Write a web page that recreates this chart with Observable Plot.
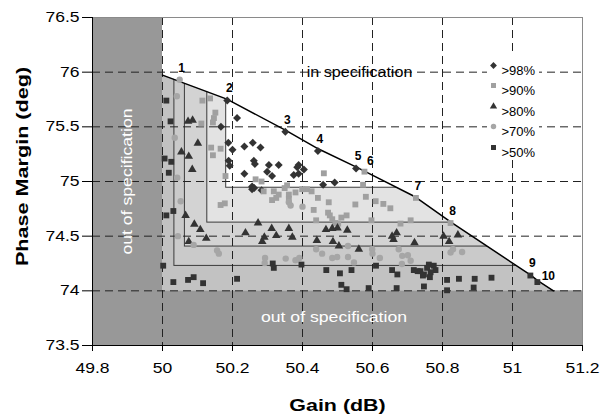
<!DOCTYPE html>
<html><head><meta charset="utf-8">
<script src="https://cdn.jsdelivr.net/npm/d3@7"></script>
<script src="https://cdn.jsdelivr.net/npm/@observablehq/plot@0.6"></script>
<style>
html,body{margin:0;padding:0;background:#fff;}
#chart{width:600px;height:419px;}
</style></head><body><div id="chart"></div>
<script>
// ---- data ----
const xTicks = [49.8, 50, 50.2, 50.4, 50.6, 50.8, 51, 51.2];
const yTicks = [73.5, 74, 74.5, 75, 75.5, 76, 76.5];
const xGrid = [50, 50.2, 50.4, 50.6, 50.8, 51];
const yGrid = [74, 74.5, 75, 75.5, 76];

// specification boundary (pareto line)
const boundaryX = [50, 50.184, 50.351, 50.446, 50.554, 50.574, 50.723, 50.823, 51.051, 51.071, 51.117];
const boundaryY = [75.973, 75.753, 75.47, 75.297, 75.132, 75.10, 74.858, 74.63, 74.146, 74.096, 74.0];

// nested yield regions (left edge, bottom edge)
const levelX = [50, 50.034, 50.064, 50.128, 50.182];
const levelY = [74, 74.228, 74.405, 74.624, 74.943];
const levelFill = ["#c2c2c2", "#cacaca", "#d3d3d3", "#e3e3e3", "#ffffff"];

const d98 = [[50.185,75.74],[50.351,75.455],[50.444,75.28],[50.553,75.12],[50.213,75.58],[50.167,75.50],[50.188,75.355],[50.2,75.29],[50.234,75.32],[50.258,75.355],[50.28,75.31],[50.189,75.19],[50.192,75.145],[50.261,75.19],[50.264,75.16],[50.304,75.15],[50.332,75.15],[50.389,75.15],[50.385,75.13],[50.404,75.11],[50.389,75.07],[50.375,75.06],[50.234,75.07],[50.299,75.09],[50.313,75.05],[50.459,74.97],[50.492,74.99],[50.256,74.955],[50.256,74.93],[50.283,74.92],[50.262,74.94]];
const d90 = [[50.577,75.09],[50.724,74.85],[50.823,74.62],[50.114,75.74],[50.136,75.76],[50.151,75.63],[50.147,75.58],[50.144,75.54],[50.111,75.53],[50.139,75.31],[50.166,75.30],[50.144,75.24],[50.18,75.05],[50.266,75.02],[50.283,75.00],[50.461,75.075],[50.573,74.97],[50.356,74.965],[50.413,74.93],[50.426,74.91],[50.38,74.90],[50.361,74.88],[50.318,74.91],[50.332,74.88],[50.349,74.94],[50.289,74.91],[50.325,74.85],[50.361,74.84],[50.313,74.83],[50.444,74.85],[50.581,74.86],[50.475,74.81],[50.609,74.82],[50.631,74.795],[50.651,74.755],[50.551,74.79],[50.432,74.74],[50.473,74.715],[50.478,74.69],[50.485,74.655],[50.494,74.62],[50.511,74.67],[50.526,74.69],[50.439,74.645],[50.597,74.645],[50.68,74.615],[50.709,74.645],[50.502,74.615],[50.166,74.785],[50.178,74.80],[50.399,74.93]];
const d80 = [[50.073,75.55],[50.086,75.56],[50.101,75.35],[50.054,75.27],[50.075,75.23],[50.085,75.11],[50.066,74.69],[50.091,74.61],[50.108,74.56],[50.125,74.48],[50.075,74.45],[50.273,74.62],[50.237,74.53],[50.312,74.57],[50.325,74.505],[50.291,74.49],[50.285,74.45],[50.361,74.57],[50.371,74.49],[50.467,74.56],[50.485,74.57],[50.5,74.575],[50.528,74.555],[50.441,74.46],[50.487,74.45],[50.504,74.41],[50.561,74.38],[50.656,74.50],[50.669,74.53],[50.66,74.47],[50.72,74.44],[50.803,74.50],[50.844,74.51],[50.819,74.45]];
const d70 = [[50.049,75.93],[50.041,75.78],[50.035,75.40],[50.042,75.035],[50.052,74.82],[50.044,74.50],[50.089,74.42],[50.156,74.37],[50.161,74.34],[50.293,74.30],[50.292,74.255],[50.352,74.295],[50.38,74.28],[50.391,74.30],[50.4,74.77],[50.361,74.81],[50.366,74.78],[50.439,74.38],[50.456,74.34],[50.485,74.30],[50.499,74.31],[50.53,74.41],[50.53,74.31],[50.547,74.26],[50.599,74.38],[50.6,74.34],[50.621,74.30],[50.675,74.38],[50.685,74.32],[50.701,74.325],[50.709,74.275],[50.684,74.245],[50.823,74.35],[50.83,74.38],[50.856,74.355]];
const d50 = [[51.051,74.14],[51.071,74.08],[50.011,75.74],[50.023,75.55],[50.006,75.21],[50.025,75.18],[50.018,75.08],[50.011,74.69],[50.031,74.73],[50.002,74.23],[50.031,74.08],[50.073,74.10],[50.089,74.125],[50.116,74.07],[50.213,74.11],[50.315,74.25],[50.318,74.21],[50.397,74.24],[50.468,74.19],[50.507,74.16],[50.54,74.19],[50.61,74.23],[50.656,74.19],[50.671,74.15],[50.718,74.19],[50.729,74.18],[50.737,74.18],[50.744,74.14],[50.761,74.24],[50.756,74.21],[50.775,74.23],[50.78,74.19],[50.766,74.17],[50.764,74.125],[50.747,74.15],[50.511,74.055],[50.526,74.015],[50.589,74.025],[50.669,74.025],[50.747,74.04],[50.813,74.10],[50.847,74.11],[50.892,74.11],[50.94,74.12],[50.813,74.005],[50.889,74.03]];

// labelled design points 1..10
const labelText = ["1","2","3","4","5","6","7","8","9","10"];
const labelX = [50.049, 50.185, 50.351, 50.444, 50.553, 50.577, 50.724, 50.823, 51.051, 51.071];
const labelY = [75.93, 75.74, 75.455, 75.28, 75.12, 75.09, 74.85, 74.62, 74.14, 74.08];

const legendLabels = [">98%", ">90%", ">80%", ">70%", ">50%"];
const seriesSymbols = ["diamond2", "square", "triangle", "circle", "square"];
const seriesColors = ["#333333", "#a0a0a0", "#333333", "#a6a6a6", "#333333"];
const seriesR = [3.6, 3.3, 3.2, 3.2, 3.3];

// ---- build ----
const pts = a => a.map(([x, y]) => ({x, y}));
const series = [d98, d90, d80, d70, d50];
const boundary = boundaryX.map((x, i) => ({x, y: boundaryY[i]}));
const boundaryExt = boundary.concat([{x: 51.2, y: boundaryY[boundaryY.length - 1]}]);
const levels = levelX.map((x, i) => ({x, y: levelY[i], shade: levelFill[i]}));
const labels = labelText.map((t, i) => ({t, x: labelX[i], y: labelY[i]}));

const fmt = d => String(+d.toFixed(1));
const marks = [
  Plot.rect(levels.slice(0, 1), {x1: "x", y1: "y", x2: 51.2, y2: 76.5, fill: d => d.shade}),
  Plot.rect(levels.slice(1), {x1: "x", y1: "y", x2: 51.6, y2: 77, fill: d => d.shade, stroke: "#3a3a3a", strokeWidth: 1, clip: true}),
  Plot.areaY(boundaryExt, {x: "x", y1: "y", y2: 76.5, fill: "white", curve: "linear"}),
  Plot.rect([0], {x1: 49.8, x2: 50, y1: 73.5, y2: 76.5, fill: "#989898"}),
  Plot.rect([0], {x1: 49.8, x2: 51.2, y1: 73.5, y2: 74, fill: "#989898"}),
  Plot.ruleX(xGrid, {stroke: "#222", strokeDasharray: "8,5", strokeWidth: 1}),
  Plot.ruleY(yGrid, {stroke: "#222", strokeDasharray: "8,5", strokeWidth: 1}),
  Plot.frame({stroke: "#8a8a8a"}),
  Plot.ruleX([49.8], {stroke: "black"}),
  Plot.ruleY([73.5], {stroke: "black"}),
  Plot.line(boundary, {x: "x", y: "y", stroke: "black", strokeWidth: 1.5}),
];
series.forEach((s, i) => {
  marks.push(Plot.dot(pts(s), {x: "x", y: "y", symbol: seriesSymbols[i], fill: seriesColors[i], r: seriesR[i], stroke: "none"}));
});
// point labels
marks.push(Plot.text(labels.filter(d => d.t !== "6" && d.t !== "10"), {x: "x", y: "y", text: "t", dx: 2, dy: -12, fontWeight: "bold", fontSize: 12}));
marks.push(Plot.text(labels.filter(d => d.t === "6"), {x: "x", y: "y", text: "t", dx: 6, dy: -11, fontWeight: "bold", fontSize: 12}));
marks.push(Plot.text(labels.filter(d => d.t === "10"), {x: "x", y: "y", text: "t", dx: 11, dy: -6, fontWeight: "bold", fontSize: 12}));
// legend background box (frame-relative pixels)
marks.push((index, scales, values, dim) => {
  const r = document.createElementNS("http://www.w3.org/2000/svg", "rect");
  r.setAttribute("x", dim.marginLeft + 395);
  r.setAttribute("y", dim.marginTop + 38);
  r.setAttribute("width", 52);
  r.setAttribute("height", 101);
  r.setAttribute("fill", "white");
  return r;
});
const legendDy = [48, 68, 89, 109, 130];
legendLabels.forEach((lab, i) => {
  marks.push(Plot.dot([lab], {frameAnchor: "top-left", dx: 401, dy: legendDy[i], symbol: seriesSymbols[i], fill: seriesColors[i], r: seriesR[i] * 0.85}));
  marks.push(Plot.text([lab], {frameAnchor: "top-left", dx: 409, dy: legendDy[i], text: d => d, textAnchor: "start", fontSize: 13}));
});
// region annotations
const annotations = [
  {x: 50.563, y: 76.0, t: "in specification", color: "black", rot: 0},
  {x: 50.49, y: 73.756, t: "out of specification", color: "white", rot: 0},
  {x: 49.9, y: 75.0, t: "out of specification", color: "white", rot: -90}
];
annotations.forEach(a => {
  marks.push(Plot.text([a], {x: "x", y: "y", text: "t", fontSize: 14, fill: a.color, rotate: a.rot}));
});
// axes
marks.push(Plot.axisX(xTicks, {tickSize: 6, tickPadding: 12, tickFormat: fmt, fontSize: 14, label: null}));
marks.push(Plot.axisY(yTicks, {tickSize: 10, tickPadding: 3, tickFormat: fmt, fontSize: 14, label: null}));
marks.push(Plot.text(["Gain (dB)"], {frameAnchor: "bottom", dy: 60, text: d => d, textAnchor: "middle", fontWeight: "bold", fontSize: 17, lineAnchor: "middle"}));
marks.push(Plot.text(["Phase Margin (deg)"], {frameAnchor: "left", dx: -70, dy: -15, rotate: -90, text: d => d, textAnchor: "middle", fontWeight: "bold", fontSize: 17, lineAnchor: "middle"}));

const chart = Plot.plot({
  width: 600, height: 419,
  marginLeft: 92, marginRight: 18, marginTop: 17, marginBottom: 74,
  style: {fontFamily: "'Liberation Sans', Arial, sans-serif", fontSize: "14px", background: "white", color: "black"},
  x: {domain: [49.8, 51.2]},
  y: {domain: [73.5, 76.5]},
  marks
});
document.getElementById("chart").append(chart);

// the reference's axis/annotation text is horizontally widened
const stretchBy = new Map([
  ["in specification", 1.15],
  ["out of specification", 1.26],
  ["Gain (dB)", 1.26],
  ["Phase Margin (deg)", 1.27]
]);
const tickStrings = new Set(xTicks.concat(yTicks).map(fmt));
chart.querySelectorAll("text").forEach(t => {
  const s = t.textContent;
  let f = stretchBy.get(s);
  if (!f && tickStrings.has(s) && t.closest('g[aria-label$="tick label"]')) f = 1.25;
  if (!f) return;
  const w = t.getComputedTextLength();
  if (w > 0) {
    t.setAttribute("textLength", (w * f).toFixed(1));
    t.setAttribute("lengthAdjust", "spacingAndGlyphs");
  }
});
</script>
</body></html>
